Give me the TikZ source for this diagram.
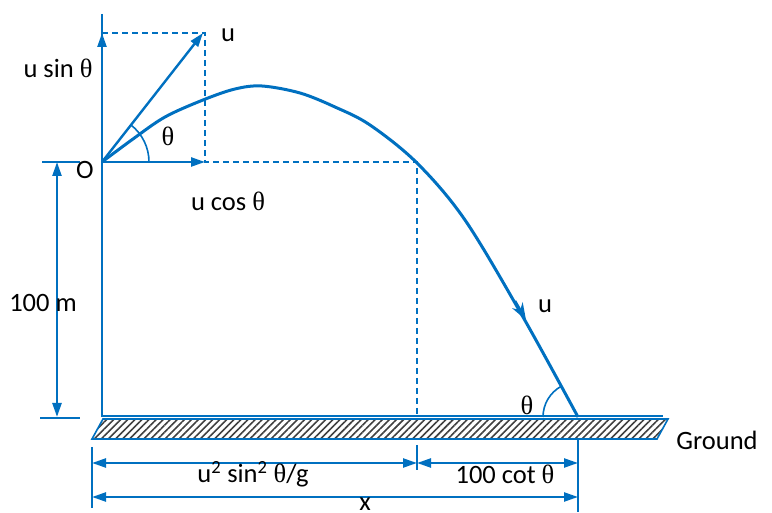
\documentclass[tikz,border=0pt]{standalone}
\usepackage{fontspec}
\setmainfont{Carlito}
\newfontfamily\thfont{Liberation Serif}
\usetikzlibrary{arrows.meta,patterns.meta}
\newcommand{\tht}{{\thfont θ}}
\definecolor{ob}{HTML}{0070C0}
\begin{document}
\begin{tikzpicture}[x=1pt,y=1pt,
  ln/.style={draw=ob, line width=2.4pt},
  thin/.style={draw=ob, line width=1.6pt},
  dsh/.style={draw=ob, line width=1.6pt, dash pattern=on 6pt off 4pt},
  tip/.style={-{Triangle[length=14pt,width=9pt]}},
  dim/.style={{Triangle[length=14pt,width=9pt]}-{Triangle[length=14pt,width=9pt]}},
  lbl/.style={font=\fontsize{26.5}{30}\selectfont, inner sep=0pt}]
\useasboundingbox (0,0) rectangle (772,512);
% key points
\coordinate (O) at (102,350);
\coordinate (axT) at (102,498);
\coordinate (axB) at (102,95);
\coordinate (Vy) at (102,479);
\coordinate (Vt) at (205,479);
\coordinate (Vx) at (205,350);
\coordinate (P) at (417,350);
\coordinate (Pg) at (417,95);
\coordinate (L) at (578,95);
% ground
\coordinate (G1) at (102,96);
\coordinate (G2) at (663,96);
\coordinate (H1) at (103,93);
\coordinate (H2) at (668,93);
\coordinate (H3) at (657,73);
\coordinate (H4) at (92,73);
\path[pattern={Lines[angle=45,distance=5pt,line width=1.6pt]}, pattern color=black!75] (H1) -- (H2) -- (H3) -- (H4) -- cycle;
\draw[thin] (H1) -- (H2) -- (H3) -- (H4) -- cycle;
\draw[ln] (G1) -- (G2);
% axes and velocity components
\draw[ln] (axT) -- (axB);
\draw[ln,tip] (O) -- (Vy);
\draw[ln,tip] (O) -- (203,479);
\draw[ln,tip] (O) -- (Vx);
\draw[dsh] (Vy) -- (Vt) -- (Vx) -- (P) -- (Pg);
\draw[thin] ([shift={(0:47)}]O) arc (0:52:47);
% trajectory
\draw[ln, line width=3pt] plot[smooth, tension=0.55] coordinates {(102,350) (133,373) (165,395) (203,412) (235,423) (262,426) (300,419) (335,405) (370,387) (417,349) (465,292) (523,195) (578,95)};
\coordinate (Ma) at (515,211);
\coordinate (Mb) at (526,192);
\draw[ln, line width=2.6pt, -{Stealth[length=17pt,width=12pt]}] (Ma) -- (Mb);
\draw[thin] ([shift={(118:35)}]L) arc (118:180:35);
% 100 m dimension
\coordinate (D1) at (57,350);
\coordinate (D2) at (57,95);
\draw[thin] (42,350) -- (80,350);
\draw[thin] (40,94) -- (80,94);
\draw[ln,dim] (D1) -- (D2);
% bottom dimensions
\coordinate (E1a) at (92,65);
\coordinate (E1b) at (92,4);
\coordinate (E2a) at (417,67);
\coordinate (E2b) at (417,42);
\coordinate (E3a) at (578,73);
\coordinate (E3b) at (578,0);
\draw[thin] (E1a) -- (E1b);
\draw[thin] (E2a) -- (E2b);
\draw[thin] (E3a) -- (E3b);
\coordinate (A1) at (92,49);
\coordinate (A2) at (417,49);
\coordinate (A3) at (578,49);
\coordinate (B1) at (92,15);
\coordinate (B2) at (578,15);
\draw[ln,dim] (A1) -- (A2);
\draw[ln,dim] (A2) -- (A3);
\draw[ln,dim] (B1) -- (B2);
% labels
\node[lbl] (lu) at (228,477) {u};
\node[lbl] (lusin) at (58,444) {u sin \tht};
\node[lbl] (lth1) at (168,376) {\tht};
\node[lbl] (lO) at (85,342) {O};
\node[lbl] (lucos) at (228,311) {u cos \tht};
\node[lbl] (lu2) at (545,206) {u};
\node[lbl] (lth2) at (527,107) {\tht};
\node[lbl] (lg) at (717,72) {Ground};
\node[lbl] (lh) at (43,209) {100 m};
\node[lbl] (lr1) at (253,38) {u\textsuperscript{2} sin\textsuperscript{2} \tht/g};
\node[lbl] (lr2) at (505,38) {100 cot \tht};
\node[lbl] (lx) at (365,8) {x};
\end{tikzpicture}
\end{document}
